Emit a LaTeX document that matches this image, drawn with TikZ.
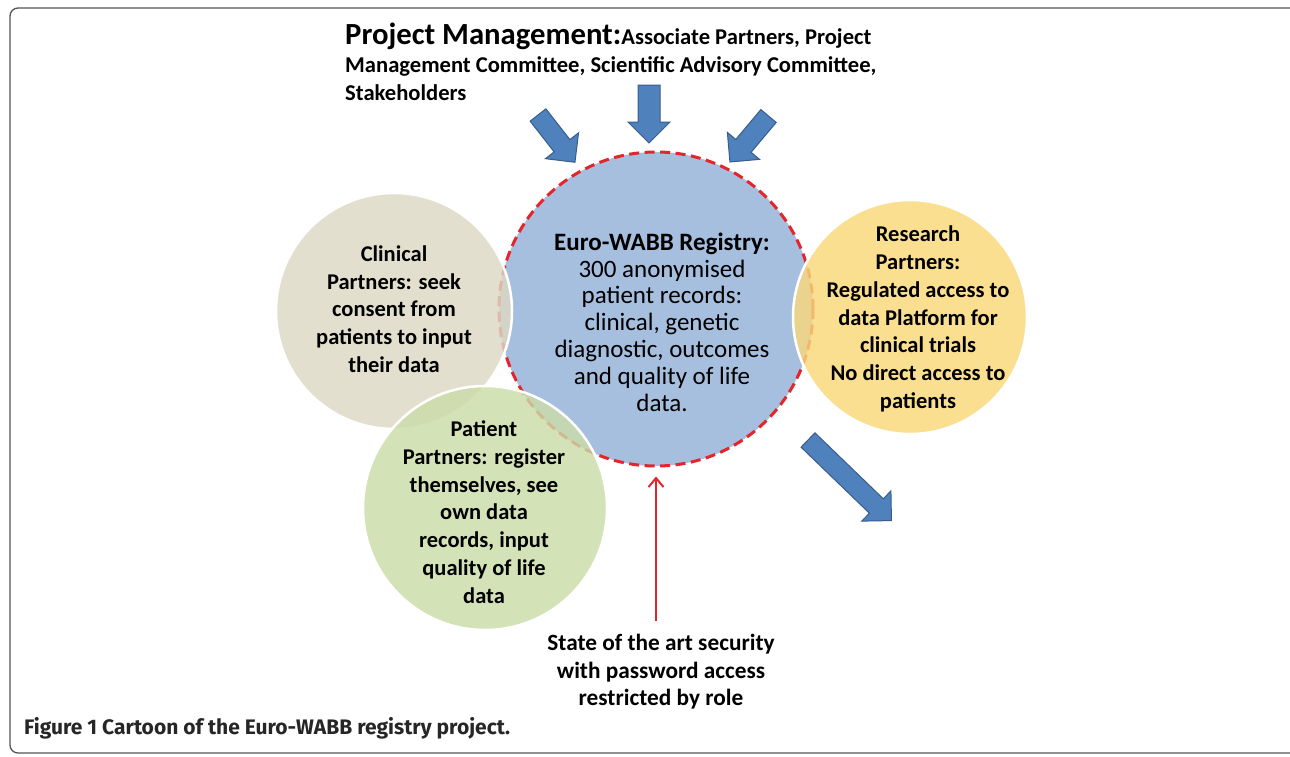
\documentclass[tikz,border=0pt]{standalone}
\usepackage{fontspec}
\setmainfont{Carlito}
\newfontfamily\capfont{Fira Sans}
\usetikzlibrary{arrows.meta}
\definecolor{regblue}{HTML}{A7BFDE}
\definecolor{clinbeige}{HTML}{DDD9C4}
\definecolor{resyellow}{HTML}{F9D87A}
\definecolor{patgreen}{HTML}{CBDCA9}
\definecolor{arrfill}{HTML}{4F81BD}
\definecolor{arrline}{HTML}{385D8A}
\definecolor{dashred}{HTML}{E4252B}
\definecolor{framegray}{HTML}{555555}
\newcommand{\blkarr}[6]{% tail x, tail y, angle, length, shaft half width, head half width
  \begin{scope}[shift={(#1,#2)},rotate=#3]
    \filldraw[blockarrow] (0,-#5) -- ({#4-#6},-#5) -- ({#4-#6},-#6) -- (#4,0)
      -- ({#4-#6},#6) -- ({#4-#6},#5) -- (0,#5) -- cycle;
  \end{scope}}
\tikzset{
  blockarrow/.style={fill=arrfill, draw=arrline, line width=1pt, line join=miter},
  bubble/.style={circle, inner sep=0pt, draw=white, line width=2.5pt, fill opacity=0.82},
  bodytxt/.style={align=center, text=black, font=\bfseries\fontsize{22.5}{27.8}\selectfont},
  regtxt/.style={align=center, text=black, font=\fontsize{25}{26.8}\selectfont},
}
\begin{document}
\begin{tikzpicture}[x=1pt,y=-1pt]
\useasboundingbox (0,0) rectangle (1290,756);
\fill[white] (0,0) rectangle (1290,756);
\draw[framegray, line width=1.3pt, rounded corners=8pt] (10,8) rectangle (1300,753);

% central registry circle
\node[circle, inner sep=0pt, minimum size=314pt, fill=regblue,
      draw=dashred, line width=3pt, dash pattern=on 10pt off 5.5pt] (reg) at (656,309) {};
% partner circles
\node[bubble, minimum size=236pt, fill=clinbeige] (clin) at (394,311) {};
\node[bubble, minimum size=234pt, fill=resyellow] (res) at (910,317) {};
\node[bubble, minimum size=244pt, fill=patgreen] (pat) at (485,508) {};

% texts
\node[regtxt] (regtxt) at (662,322) {\textbf{Euro-WABB Registry:}\\300 anonymised\\patient records:\\clinical, genetic\\diagnostic, outcomes\\and quality of life\\data.};
\node[bodytxt] (clintxt) at (394,309) {Clinical\\Partners: seek\\consent from\\patients to input\\their data};
\node[bodytxt] (restxt) at (918,319) {Research\\Partners:\\Regulated access to\\data Platform for\\clinical trials\\No direct access to\\patients};
\node[bodytxt] (pattxt) at (484,512) {Patient\\Partners: register\\themselves, see\\own data\\records, input\\quality of life\\data};

% project management header
\node[anchor=north west, align=left, inner sep=0pt, font=\bfseries\fontsize{22.6}{28}\selectfont] (pm) at (345,23)
  {{\fontsize{30.7}{31}\selectfont Project Management:}Associate Partners, Project\\Management Committee, Scientific Advisory Committee,\\Stakeholders};

% block arrows
\blkarr{538}{115}{-52}{60}{10}{21}
\blkarr{649}{85}{-90}{58}{11}{21}
\blkarr{768.5}{116}{-130}{60}{10}{21}
\blkarr{808}{440}{-44}{116}{10}{21}

% security note and red arrow
\node[bodytxt, font=\bfseries\fontsize{23.3}{27.5}\selectfont] (sec) at (661,672) {State of the art security\\with password access\\restricted by role};
\draw[dashred, line width=2pt, shorten <=10pt, shorten >=9pt,
      -{Straight Barb[length=9pt,width=15pt,line width=2pt]}] (sec.north -| reg.south) -- (reg.south);

% caption
\node[anchor=west, inner sep=0pt, font=\capfont\bfseries\fontsize{21}{22}\selectfont, text=black!85] (cap) at (24,728)
  {Figure 1 Cartoon of the Euro-WABB registry project.};
\end{tikzpicture}
\end{document}
